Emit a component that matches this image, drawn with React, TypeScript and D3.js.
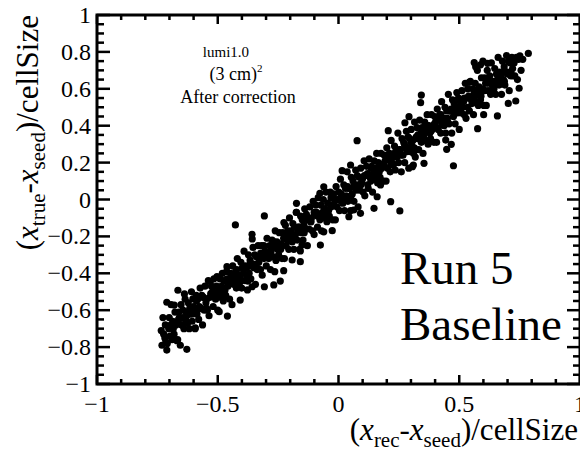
import React from "react";
import * as d3 from "d3";

const W = 580;
const H = 453;

// Axis tick labels
const xTickValues = [-1, -0.5, 0, 0.5, 1];
const yTickValues = [-1, -0.8, -0.6, -0.4, -0.2, 0, 0.2, 0.4, 0.6, 0.8, 1];

// Annotation text
const infoTitle = "lumi1.0";
const infoCell = "(3 cm)";
const infoNote = "After correction";
const runLines = ["Run 5", "Baseline"];

// Scatter data: [ (x_rec - x_seed)/cellSize, (x_true - x_seed)/cellSize ]
type Pt = [number, number];

const lowTail: Pt[] = [
  [-0.734, -0.71], [-0.731, -0.79], [-0.727, -0.64], [-0.724, -0.73], [-0.719, -0.75], [-0.717, -0.68],
  [-0.715, -0.771], [-0.711, -0.816], [-0.711, -0.557], [-0.709, -0.78], [-0.703, -0.7], [-0.701, -0.64],
  [-0.698, -0.74], [-0.694, -0.68], [-0.693, -0.57], [-0.689, -0.76], [-0.686, -0.66], [-0.684, -0.7],
  [-0.681, -0.73], [-0.68, -0.572], [-0.677, -0.61], [-0.673, -0.68], [-0.671, -0.67], [-0.669, -0.765],
  [-0.666, -0.76], [-0.665, -0.492], [-0.661, -0.61], [-0.659, -0.64], [-0.655, -0.79], [-0.652, -0.57],
  [-0.649, -0.68], [-0.646, -0.64], [-0.644, -0.6], [-0.64, -0.7], [-0.638, -0.512], [-0.635, -0.54],
  [-0.633, -0.65], [-0.629, -0.63], [-0.628, -0.812], [-0.625, -0.67], [-0.622, -0.56], [-0.618, -0.7],
  [-0.616, -0.59], [-0.613, -0.62], [-0.609, -0.5], [-0.606, -0.66], [-0.603, -0.539], [-0.601, -0.58],
  [-0.597, -0.59], [-0.594, -0.7], [-0.593, -0.696], [-0.589, -0.52], [-0.586, -0.62], [-0.583, -0.54],
  [-0.579, -0.65], [-0.576, -0.58], [-0.573, -0.48], [-0.569, -0.59], [-0.566, -0.52], [-0.563, -0.68],
  [-0.559, -0.53], [-0.556, -0.6], [-0.553, -0.47],
];

const lowerBand: Pt[] = [
  [-0.549, -0.56], [-0.546, -0.54], [-0.543, -0.6], [-0.539, -0.44], [-0.536, -0.63], [-0.531, -0.445],
  [-0.529, -0.51], [-0.526, -0.47], [-0.522, -0.5], [-0.519, -0.58], [-0.516, -0.43], [-0.512, -0.52],
  [-0.509, -0.54], [-0.505, -0.47], [-0.503, -0.418], [-0.5, -0.6], [-0.497, -0.5], [-0.494, -0.608],
  [-0.491, -0.43], [-0.488, -0.53], [-0.484, -0.47], [-0.481, -0.4], [-0.477, -0.55], [-0.474, -0.44],
  [-0.47, -0.49], [-0.467, -0.52], [-0.463, -0.39], [-0.462, -0.364], [-0.46, -0.632], [-0.458, -0.47],
  [-0.455, -0.46], [-0.451, -0.54], [-0.448, -0.4], [-0.445, -0.43], [-0.441, -0.57], [-0.438, -0.36],
  [-0.434, -0.46], [-0.431, -0.42], [-0.427, -0.138], [-0.426, -0.39], [-0.423, -0.48], [-0.419, -0.32],
  [-0.416, -0.44], [-0.412, -0.41], [-0.409, -0.45], [-0.407, -0.545], [-0.404, -0.34], [-0.401, -0.48],
  [-0.398, -0.37], [-0.394, -0.4], [-0.391, -0.28], [-0.387, -0.44], [-0.384, -0.36], [-0.38, -0.37],
  [-0.377, -0.49], [-0.375, -0.442], [-0.373, -0.3], [-0.37, -0.4], [-0.366, -0.33], [-0.363, -0.43],
  [-0.36, -0.36], [-0.358, -0.189], [-0.357, -0.214], [-0.358, -0.473], [-0.354, -0.26], [-0.351, -0.37],
  [-0.347, -0.3], [-0.344, -0.46], [-0.34, -0.31], [-0.337, -0.38], [-0.333, -0.25], [-0.33, -0.34],
  [-0.326, -0.32], [-0.323, -0.38], [-0.319, -0.25], [-0.316, -0.41], [-0.312, -0.29], [-0.309, -0.25],
  [-0.307, -0.089], [-0.307, -0.473], [-0.303, -0.28],
];

const centerBand: Pt[] = [
  [-0.299, -0.36], [-0.296, -0.21], [-0.292, -0.3], [-0.289, -0.32], [-0.285, -0.25], [-0.282, -0.38],
  [-0.279, -0.28], [-0.275, -0.22], [-0.272, -0.31], [-0.268, -0.463], [-0.268, -0.26], [-0.264, -0.391],
  [-0.262, -0.17], [-0.259, -0.33], [-0.255, -0.23], [-0.252, -0.27], [-0.248, -0.3], [-0.245, -0.18],
  [-0.241, -0.442], [-0.241, -0.25], [-0.238, -0.24], [-0.234, -0.32], [-0.231, -0.18], [-0.227, -0.386],
  [-0.227, -0.21], [-0.226, -0.125], [-0.224, -0.32], [-0.22, -0.14], [-0.217, -0.25], [-0.213, -0.2],
  [-0.21, -0.17], [-0.206, -0.27], [-0.203, -0.1], [-0.199, -0.22], [-0.196, -0.2], [-0.192, -0.328],
  [-0.192, -0.23], [-0.189, -0.13], [-0.185, -0.27], [-0.182, -0.15], [-0.178, -0.19], [-0.175, -0.07],
  [-0.174, -0.021], [-0.174, -0.069], [-0.171, -0.22], [-0.168, -0.15], [-0.164, -0.15], [-0.161, -0.27],
  [-0.158, -0.279], [-0.158, -0.337], [-0.157, -0.09], [-0.154, -0.18], [-0.151, -0.247], [-0.15, -0.11],
  [-0.147, -0.22], [-0.143, -0.14], [-0.14, -0.05], [-0.136, -0.16], [-0.133, -0.08], [-0.129, -0.25],
  [-0.126, -0.1], [-0.122, -0.16], [-0.119, -0.04], [-0.115, -0.12], [-0.112, -0.1], [-0.108, -0.17],
  [-0.105, -0.01], [-0.101, -0.19], [-0.098, -0.08], [-0.094, -0.03], [-0.091, -0.07], [-0.087, -0.15],
  [-0.084, 0.01], [-0.08, -0.09], [-0.077, 0.034], [-0.077, -0.11], [-0.075, -0.247], [-0.073, -0.03],
  [-0.07, -0.17], [-0.066, -0.07], [-0.063, 0.0], [-0.061, 0.069], [-0.061, -0.175], [-0.059, -0.1],
  [-0.056, -0.05], [-0.052, 0.04],
];

const upperBand: Pt[] = [
  [-0.048, -0.12], [-0.045, -0.02], [-0.041, -0.06], [-0.038, -0.09], [-0.034, 0.04], [-0.031, -0.04],
  [-0.027, -0.03], [-0.026, -0.169], [-0.024, -0.11], [-0.02, 0.03], [-0.017, 0.0], [-0.013, -0.11],
  [-0.01, 0.07], [-0.006, -0.04], [-0.003, 0.0], [0.001, 0.04], [0.004, -0.06], [0.008, 0.11],
  [0.011, -0.01], [0.015, 0.156], [0.015, 0.02], [0.018, -0.02], [0.022, 0.08], [0.025, -0.06],
  [0.029, 0.06], [0.032, 0.02], [0.036, 0.15], [0.039, -0.01], [0.043, -0.093], [0.043, 0.06],
  [0.046, 0.06], [0.05, 0.187], [0.05, -0.06], [0.053, 0.12], [0.057, 0.03], [0.06, 0.1],
  [0.063, -0.057], [0.064, -0.01], [0.067, 0.07], [0.071, 0.16], [0.074, 0.05], [0.077, 0.319],
  [0.078, 0.13], [0.081, -0.04], [0.085, 0.12], [0.088, 0.05], [0.091, -0.075], [0.092, 0.17],
  [0.095, 0.09], [0.099, 0.11], [0.102, 0.04], [0.106, 0.21], [0.109, 0.02], [0.113, 0.13],
  [0.116, 0.18], [0.12, 0.14], [0.123, 0.06], [0.127, 0.22], [0.13, 0.12], [0.134, 0.1],
  [0.137, 0.18], [0.141, 0.04], [0.144, 0.14], [0.147, -0.048], [0.148, 0.21], [0.151, 0.11],
  [0.155, 0.17], [0.158, 0.25], [0.16, 0.015], [0.162, 0.09], [0.165, 0.2], [0.169, 0.15],
  [0.172, 0.12], [0.174, 0.079], [0.176, 0.25], [0.179, 0.17], [0.183, 0.18], [0.186, 0.1],
  [0.19, 0.24], [0.193, 0.21], [0.197, 0.1], [0.2, 0.28], [0.204, 0.17], [0.206, 0.373],
  [0.207, 0.22], [0.211, 0.25], [0.214, 0.15], [0.216, -0.012], [0.218, 0.32], [0.221, 0.2],
  [0.225, 0.23], [0.228, 0.19], [0.232, 0.29], [0.235, 0.16], [0.239, 0.27], [0.242, 0.23],
  [0.246, 0.36], [0.249, 0.2], [0.253, 0.27], [0.254, -0.062], [0.256, 0.27], [0.26, 0.15],
  [0.263, 0.33], [0.267, 0.24], [0.27, 0.31], [0.274, 0.2], [0.275, 0.416], [0.277, 0.28],
  [0.281, 0.37], [0.284, 0.26], [0.288, 0.34], [0.291, 0.17], [0.292, 0.449], [0.295, 0.33],
  [0.298, 0.26],
];

const highBand: Pt[] = [
  [0.301, 0.38], [0.304, 0.29], [0.306, 0.178], [0.308, 0.32], [0.31, 0.187], [0.311, 0.25],
  [0.315, 0.42], [0.318, 0.23], [0.322, 0.34], [0.325, 0.39], [0.329, 0.35], [0.332, 0.27],
  [0.336, 0.43], [0.34, 0.525], [0.339, 0.33], [0.343, 0.566], [0.343, 0.31], [0.346, 0.39],
  [0.35, 0.25], [0.353, 0.35], [0.354, 0.196], [0.357, 0.42], [0.36, 0.32], [0.364, 0.37],
  [0.367, 0.46], [0.371, 0.3], [0.374, 0.4], [0.378, 0.36], [0.381, 0.33], [0.385, 0.46],
  [0.388, 0.38], [0.392, 0.39], [0.395, 0.31], [0.399, 0.45], [0.402, 0.42], [0.406, 0.31],
  [0.409, 0.49], [0.413, 0.38], [0.416, 0.43], [0.42, 0.46], [0.423, 0.36], [0.427, 0.53],
  [0.43, 0.41], [0.434, 0.43], [0.437, 0.4], [0.441, 0.5], [0.444, 0.322], [0.444, 0.36],
  [0.448, 0.272], [0.448, 0.48], [0.451, 0.44], [0.455, 0.57], [0.458, 0.41], [0.462, 0.48],
  [0.465, 0.48], [0.467, 0.299], [0.469, 0.36], [0.472, 0.54], [0.476, 0.183], [0.476, 0.45],
  [0.479, 0.52], [0.483, 0.41], [0.486, 0.49], [0.49, 0.58], [0.493, 0.47], [0.497, 0.55],
  [0.5, 0.38], [0.504, 0.53], [0.507, 0.47], [0.511, 0.59], [0.514, 0.5], [0.518, 0.53],
  [0.521, 0.46], [0.525, 0.63], [0.528, 0.44], [0.532, 0.55], [0.535, 0.6], [0.541, 0.635],
  [0.539, 0.56], [0.542, 0.48], [0.546, 0.64],
];

const highTail: Pt[] = [
  [0.55, 0.54], [0.553, 0.52], [0.556, 0.6], [0.559, 0.46], [0.562, 0.742], [0.563, 0.56],
  [0.566, 0.63], [0.568, 0.72], [0.569, 0.53], [0.572, 0.58], [0.576, 0.384], [0.575, 0.7],
  [0.579, 0.51], [0.582, 0.61], [0.585, 0.57], [0.588, 0.73], [0.588, 0.54], [0.592, 0.66],
  [0.595, 0.59], [0.598, 0.6], [0.598, 0.75], [0.601, 0.46], [0.602, 0.51], [0.605, 0.66],
  [0.609, 0.63], [0.612, 0.51], [0.616, 0.7], [0.617, 0.738], [0.619, 0.59], [0.623, 0.63],
  [0.626, 0.67], [0.63, 0.57], [0.633, 0.74], [0.637, 0.62], [0.64, 0.64], [0.644, 0.6],
  [0.647, 0.71], [0.651, 0.57], [0.654, 0.68], [0.658, 0.453], [0.658, 0.65], [0.661, 0.77],
  [0.665, 0.62], [0.668, 0.69], [0.672, 0.68], [0.675, 0.57], [0.679, 0.75], [0.682, 0.65],
  [0.686, 0.72], [0.689, 0.62], [0.693, 0.69], [0.696, 0.78], [0.7, 0.68], [0.703, 0.521],
  [0.704, 0.75], [0.707, 0.59], [0.711, 0.74], [0.714, 0.67], [0.718, 0.77], [0.721, 0.71],
  [0.725, 0.751], [0.727, 0.74], [0.73, 0.67], [0.734, 0.534], [0.737, 0.77], [0.741, 0.65],
  [0.745, 0.76], [0.748, 0.603], [0.751, 0.778], [0.756, 0.7], [0.763, 0.76], [0.786, 0.792],
];

// Tightly correlated core of the band
const coreBand: Pt[] = [
  [-0.662, -0.65], [-0.648, -0.68], [-0.631, -0.61], [-0.619, -0.62], [-0.604, -0.62], [-0.588, -0.55],
  [-0.575, -0.59], [-0.561, -0.53], [-0.546, -0.59], [-0.533, -0.53], [-0.518, -0.5], [-0.504, -0.52],
  [-0.491, -0.48], [-0.476, -0.51], [-0.462, -0.43], [-0.449, -0.45], [-0.435, -0.45], [-0.421, -0.38],
  [-0.406, -0.43], [-0.393, -0.38], [-0.378, -0.42], [-0.365, -0.35], [-0.351, -0.35], [-0.337, -0.37],
  [-0.322, -0.29], [-0.309, -0.32], [-0.295, -0.29], [-0.281, -0.3], [-0.267, -0.23], [-0.253, -0.25],
  [-0.239, -0.27], [-0.225, -0.21], [-0.212, -0.22], [-0.197, -0.17], [-0.184, -0.2], [-0.169, -0.17],
  [-0.156, -0.15], [-0.142, -0.18], [-0.128, -0.11], [-0.114, -0.12], [-0.101, -0.07], [-0.087, -0.09],
  [-0.073, -0.09], [-0.059, -0.05], [-0.045, -0.08], [-0.031, 0.01], [-0.018, -0.03], [-0.004, 0.0],
  [0.011, 0.03], [0.024, 0.0], [0.038, 0.07], [0.052, 0.02], [0.066, 0.08], [0.079, 0.08],
  [0.093, 0.08], [0.107, 0.13], [0.121, 0.08], [0.135, 0.17], [0.148, 0.15], [0.162, 0.14],
  [0.176, 0.19], [0.19, 0.18], [0.204, 0.24], [0.217, 0.19], [0.231, 0.25], [0.245, 0.25],
  [0.259, 0.24], [0.273, 0.3], [0.286, 0.28], [0.3, 0.31], [0.314, 0.28], [0.328, 0.33],
  [0.342, 0.36], [0.355, 0.32], [0.369, 0.4], [0.383, 0.37], [0.397, 0.41], [0.411, 0.39],
  [0.424, 0.46], [0.438, 0.44], [0.452, 0.42], [0.466, 0.49], [0.48, 0.47], [0.493, 0.5],
  [0.507, 0.49], [0.521, 0.55], [0.535, 0.5], [0.549, 0.55], [0.562, 0.58], [0.576, 0.57],
  [0.59, 0.56], [0.604, 0.59], [0.618, 0.64], [0.631, 0.59], [0.645, 0.63], [0.659, 0.63],
  [0.673, 0.67], [0.687, 0.64], [0.7, 0.69], [0.714, 0.69],
];

const points: Pt[] = [
  ...lowTail, ...lowerBand, ...centerBand, ...upperBand, ...highBand, ...highTail, ...coreBand,
];

const FONT = "'Liberation Serif', 'Times New Roman', Times, serif";

export default function App() {
  const frame = { left: 97, right: 580, top: 15, bottom: 384 };
  const x = d3.scaleLinear().domain([-1, 1]).range([frame.left, frame.right]);
  const y = d3.scaleLinear().domain([-1, 1]).range([frame.bottom, frame.top]);
  const fmt = d3.format("");

  const xMinor = x.ticks(20);
  const yMinor = y.ticks(40);
  const isMajor = (v: number, list: number[]) => list.some((t) => Math.abs(t - v) < 1e-6);

  const tickW = 2.5;
  const xMajLen = 9, xMinLen = 5;
  const yMajLen = 13, yMinLen = 7;

  return (
    <div style={{ position: "absolute", left: 0, top: 0, width: W, height: H, background: "#fff" }}>
      <svg width={W} height={H} viewBox={`0 0 ${W} ${H}`} style={{ display: "block", fontFamily: FONT }}>
        <rect x={0} y={0} width={W} height={H} fill="#fff" />

        {/* markers */}
        <g fill="#000">
          {points.map((p, i) => (
            <circle key={i} cx={x(p[0])} cy={y(p[1])} r={3.6} />
          ))}
        </g>

        {/* ticks on all four sides */}
        <g stroke="#000" strokeWidth={tickW}>
          {xMinor.map((v, i) => {
            const len = isMajor(v, xTickValues) ? xMajLen : xMinLen;
            return (
              <g key={`xt${i}`}>
                <line x1={x(v)} x2={x(v)} y1={frame.bottom} y2={frame.bottom - len} />
                <line x1={x(v)} x2={x(v)} y1={frame.top} y2={frame.top + len} />
              </g>
            );
          })}
          {yMinor.map((v, i) => {
            const len = isMajor(v, yTickValues) ? yMajLen : yMinLen;
            return (
              <g key={`yt${i}`}>
                <line x1={frame.left} x2={frame.left + len} y1={y(v)} y2={y(v)} />
                <line x1={frame.right} x2={frame.right - len} y1={y(v)} y2={y(v)} />
              </g>
            );
          })}
        </g>

        {/* frame */}
        <rect
          x={frame.left}
          y={frame.top}
          width={frame.right - frame.left}
          height={frame.bottom - frame.top}
          fill="none"
          stroke="#000"
          strokeWidth={3}
        />

        {/* tick labels */}
        <g fontSize={24} fill="#000">
          {xTickValues.map((v, i) => (
            <text key={`xl${i}`} x={x(v)} y={412} textAnchor="middle">
              {fmt(v)}
            </text>
          ))}
          {yTickValues.map((v, i) => (
            <text key={`yl${i}`} x={91} y={y(v) + 8} textAnchor="end">
              {fmt(v)}
            </text>
          ))}
        </g>

        {/* axis titles */}
        <text x={578} y={440} textAnchor="end" fontSize={31} fill="#000">
          (<tspan fontStyle="italic">x</tspan>
          <tspan fontSize={21} dy={7}>rec</tspan>
          <tspan dy={-7}>-</tspan>
          <tspan fontStyle="italic">x</tspan>
          <tspan fontSize={21} dy={7}>seed</tspan>
          <tspan dy={-7}>)/cellSize</tspan>
        </text>
        <text transform="rotate(-90)" x={-15} y={38} textAnchor="end" fontSize={31} fill="#000">
          (<tspan fontStyle="italic">x</tspan>
          <tspan fontSize={21} dy={7}>true</tspan>
          <tspan dy={-7}>-</tspan>
          <tspan fontStyle="italic">x</tspan>
          <tspan fontSize={21} dy={7}>seed</tspan>
          <tspan dy={-7}>)/cellSize</tspan>
        </text>

        {/* info block */}
        <g fill="#000" textAnchor="middle">
          <text x={226} y={57} fontSize={15}>{infoTitle}</text>
          <text x={236} y={80} fontSize={18}>
            {infoCell}
            <tspan fontSize={11} dy={-8}>2</tspan>
          </text>
          <text x={238} y={103} fontSize={18}>{infoNote}</text>
        </g>

        {/* run label */}
        <g fill="#000" fontSize={47}>
          {runLines.map((s, i) => (
            <text key={s} x={400} y={284 + i * 56}>
              {s}
            </text>
          ))}
        </g>
      </svg>
    </div>
  );
}
